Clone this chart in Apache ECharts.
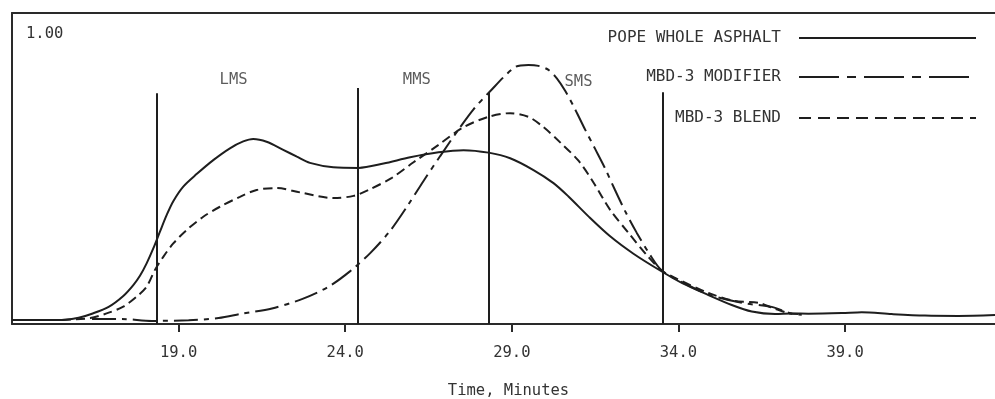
<!DOCTYPE html>
<html>
<head>
<meta charset="utf-8">
<script src="https://cdn.jsdelivr.net/npm/echarts@6/dist/echarts.min.js"></script>
<style>
  html, body { margin: 0; padding: 0; background: #ffffff; }
  #chart { width: 995px; height: 399px; }
</style>
</head>
<body>
<div id="chart"></div>
<script>
// Gel permeation traces: [time (min), relative response]
const seriesNames = ['POPE WHOLE ASPHALT', 'MBD-3 MODIFIER', 'MBD-3 BLEND'];

const wholeAsphalt = [
  [14.0, 0.013], [15.0, 0.013], [15.6, 0.014], [16.0, 0.020], [16.4, 0.033], [16.9, 0.055],
  [17.34, 0.090], [17.64, 0.125], [17.84, 0.155], [18.04, 0.195], [18.24, 0.243], [18.44, 0.297],
  [18.64, 0.350], [18.84, 0.395], [19.14, 0.442], [19.54, 0.482], [20.04, 0.527], [20.54, 0.565],
  [20.94, 0.587], [21.24, 0.595], [21.64, 0.586], [22.14, 0.560], [22.55, 0.538], [22.94, 0.518],
  [23.64, 0.504], [24.4, 0.502], [25.15, 0.516], [25.95, 0.536], [26.8, 0.552], [27.55, 0.559],
  [28.3, 0.551], [28.95, 0.533], [29.65, 0.495], [30.25, 0.453], [30.7, 0.410], [31.3, 0.346],
  [31.95, 0.282], [32.65, 0.226], [33.45, 0.172], [34.1, 0.132], [34.9, 0.093], [35.6, 0.061],
  [36.2, 0.040], [36.9, 0.032], [37.4, 0.034], [37.9, 0.033], [38.9, 0.035], [39.5, 0.038],
  [40.4, 0.032], [41.4, 0.027], [42.4, 0.026], [43.5, 0.029]
];

const modifier = [
  [16.4, 0.016], [17.3, 0.016], [18.2, 0.010], [19.3, 0.012], [20.2, 0.019], [20.9, 0.033],
  [21.8, 0.050], [22.7, 0.080], [23.5, 0.120], [24.15, 0.170], [24.75, 0.228], [25.35, 0.300],
  [25.9, 0.385], [26.35, 0.460], [26.85, 0.540], [27.4, 0.625], [27.85, 0.690], [28.3, 0.743],
  [29.1, 0.826], [29.5, 0.833], [29.8, 0.830], [30.1, 0.817], [30.35, 0.790], [30.6, 0.750],
  [30.9, 0.690], [31.2, 0.625], [31.5, 0.563], [31.8, 0.500], [32.1, 0.430], [32.4, 0.363],
  [32.75, 0.293], [33.15, 0.222], [33.5, 0.172], [34.1, 0.135], [34.9, 0.095], [35.9, 0.068],
  [36.8, 0.055], [37.4, 0.033], [37.7, 0.030]
];

const blend = [
  [15.5, 0.013], [16.35, 0.019], [16.84, 0.034], [17.34, 0.056], [17.74, 0.088], [18.04, 0.120],
  [18.29, 0.174], [18.54, 0.216], [18.84, 0.259], [19.24, 0.302], [19.74, 0.345], [20.24, 0.377],
  [20.84, 0.409], [21.34, 0.431], [21.95, 0.437], [22.65, 0.423], [23.65, 0.405], [24.25, 0.412],
  [24.7, 0.431], [25.4, 0.470], [26.05, 0.520], [26.8, 0.576], [27.55, 0.633], [28.3, 0.666],
  [28.95, 0.678], [29.5, 0.666], [29.95, 0.633], [30.45, 0.584], [31.0, 0.525], [31.45, 0.455],
  [31.95, 0.367], [32.5, 0.293], [33.1, 0.215], [33.5, 0.172], [33.9, 0.148], [34.9, 0.100],
  [35.65, 0.075], [36.4, 0.068], [36.85, 0.051], [37.3, 0.035], [37.6, 0.032]
];

// Molecular-size fraction cut points (LMS / MMS / SMS)
const cutTimes = [18.33, 24.37, 28.32, 33.52];
const cutHeights = [0.742, 0.759, 0.746, 0.745];
const fractionNames = ['LMS', 'MMS', 'SMS'];
const fractionTimes = [20.65, 26.15, 31.0];
const fractionLevels = [0.785, 0.785, 0.778];

const fullScaleLabel = '1.00';
const axisTitle = 'Time, Minutes';

const FONT = 'DejaVu Sans Mono';
const INK = '#1e1e1e';
const FRAME = '#2a2a2a';
const TEXT = '#333333';

const lineTypes = ['solid', [24, 6, 5, 6], [9, 5]];
const legendLineTypes = ['solid', [40, 8, 9, 8], [12, 7]];
const legendTops = [30, 69, 110];

const chart = echarts.init(document.getElementById('chart'), null, { renderer: 'canvas' });

const curveData = [wholeAsphalt, modifier, blend];

const curveSeries = seriesNames.map((name, i) => ({
  name: name,
  type: 'line',
  data: curveData[i],
  smooth: 0.3,
  showSymbol: false,
  symbol: 'none',
  silent: true,
  z: 3 - i,
  lineStyle: { color: INK, width: 2, type: lineTypes[i] },
  itemStyle: { color: INK }
}));

curveSeries[0].markLine = {
  symbol: 'none',
  silent: true,
  animation: false,
  label: { show: false },
  lineStyle: { color: INK, width: 2, type: 'solid' },
  data: cutTimes.map((t, i) => [{ coord: [t, 0] }, { coord: [t, cutHeights[i]] }])
};

const fractionSeries = {
  type: 'scatter',
  silent: true,
  symbolSize: 1,
  itemStyle: { color: 'rgba(0,0,0,0)' },
  label: {
    show: true,
    position: 'inside',
    formatter: '{b}',
    fontFamily: FONT,
    fontSize: 15.5,
    color: TEXT
  },
  data: fractionNames.map((n, i) => ({ name: n, value: [fractionTimes[i], fractionLevels[i]] }))
};

const hiddenAxisParts = {
  axisTick: { show: false },
  axisLabel: { show: false },
  splitLine: { show: false }
};

const option = {
  backgroundColor: '#ffffff',
  animation: false,
  title: {
    text: fullScaleLabel,
    left: 26,
    top: 26,
    padding: 0,
    textStyle: { fontFamily: FONT, fontSize: 15.5, fontWeight: 'normal', color: TEXT }
  },
  legend: seriesNames.map((name, i) => ({
    data: [name],
    orient: 'horizontal',
    right: 18,
    top: legendTops[i],
    padding: 0,
    align: 'right',
    itemWidth: 177,
    itemHeight: 14,
    selectedMode: false,
    itemStyle: { opacity: 0 },
    lineStyle: { color: INK, width: 2, type: legendLineTypes[i] },
    textStyle: { fontFamily: FONT, fontSize: 16, color: TEXT, padding: [0, 13, 0, 0] }
  })),
  grid: {
    left: 12,
    right: 0,
    top: 13,
    bottom: 75,
    show: false,
    containLabel: false,
    outerBoundsMode: 'none'
  },
  xAxis: [
    {
      type: 'value',
      min: 14,
      max: 43.5,
      interval: 5,
      position: 'bottom',
      name: axisTitle,
      nameLocation: 'middle',
      nameGap: 59,
      nameTextStyle: { fontFamily: FONT, fontSize: 15.5, color: TEXT, padding: [0, 0, 0, 10] },
      axisLine: { show: true, onZero: false, lineStyle: { color: FRAME, width: 2 } },
      axisTick: { show: true, length: 8, lineStyle: { color: FRAME, width: 2 } },
      axisLabel: {
        show: true,
        margin: 21,
        showMinLabel: false,
        showMaxLabel: false,
        fontFamily: FONT,
        fontSize: 15.5,
        color: TEXT,
        formatter: v => v.toFixed(1)
      },
      splitLine: { show: false }
    },
    {
      type: 'value',
      min: 14,
      max: 43.5,
      position: 'top',
      axisLine: { show: true, onZero: false, lineStyle: { color: FRAME, width: 2 } },
      ...hiddenAxisParts
    }
  ],
  yAxis: {
    type: 'value',
    min: 0,
    max: 1,
    position: 'left',
    axisLine: { show: true, onZero: false, lineStyle: { color: FRAME, width: 2 } },
    ...hiddenAxisParts
  },
  series: [...curveSeries, fractionSeries]
};

chart.setOption(option);
</script>
</body>
</html>
